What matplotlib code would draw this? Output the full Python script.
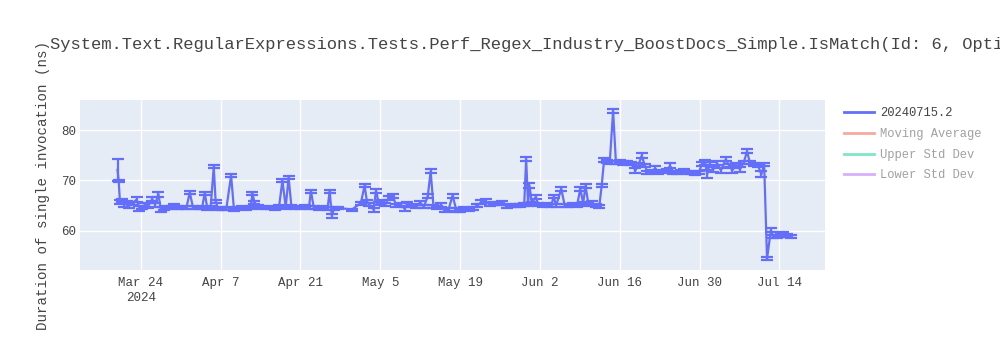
import pandas as pd
import matplotlib
matplotlib.use("Agg")
import matplotlib.pyplot as plt
from matplotlib.lines import Line2D

# benchmark runs: timestamp, mean duration (ns), std dev
run_times = [
    "2024-03-19 22:00", "2024-03-20 03:00", "2024-03-20 08:00", "2024-03-20 16:00",
    "2024-03-21 02:00", "2024-03-21 12:00", "2024-03-22 00:00", "2024-03-22 12:00",
    "2024-03-23 06:00", "2024-03-23 18:00", "2024-03-24 06:00", "2024-03-24 18:00",
    "2024-03-25 08:00", "2024-03-26 00:00", "2024-03-26 12:00", "2024-03-27 02:00",
    "2024-03-27 12:00", "2024-03-28 00:00", "2024-03-28 12:00", "2024-03-29 06:00",
    "2024-03-29 20:00", "2024-03-30 12:00", "2024-03-31 06:00", "2024-04-01 00:00",
    "2024-04-01 14:00", "2024-04-02 04:00", "2024-04-03 00:00", "2024-04-03 18:00",
    "2024-04-04 05:00", "2024-04-04 16:00", "2024-04-05 06:00", "2024-04-05 19:00",
    "2024-04-06 03:00", "2024-04-06 14:00", "2024-04-07 06:00", "2024-04-08 00:00",
    "2024-04-08 20:00", "2024-04-09 08:00", "2024-04-10 00:00", "2024-04-10 18:00",
    "2024-04-11 12:00", "2024-04-12 06:00", "2024-04-12 14:00", "2024-04-12 22:00",
    "2024-04-13 12:00", "2024-04-14 06:00", "2024-04-15 00:00", "2024-04-15 18:00",
    "2024-04-16 12:00", "2024-04-17 06:00", "2024-04-17 20:00", "2024-04-18 10:00",
    "2024-04-18 22:00", "2024-04-19 10:00", "2024-04-20 06:00", "2024-04-21 00:00",
    "2024-04-21 18:00", "2024-04-22 12:00", "2024-04-22 20:00", "2024-04-23 08:00",
    "2024-04-24 06:00", "2024-04-25 00:00", "2024-04-25 18:00", "2024-04-26 03:00",
    "2024-04-26 12:00", "2024-04-26 22:00", "2024-04-27 12:00", "2024-04-30 00:00",
    "2024-05-01 14:00", "2024-05-02 06:00", "2024-05-02 16:00", "2024-05-03 02:00",
    "2024-05-03 20:00", "2024-05-04 06:00", "2024-05-04 18:00", "2024-05-05 08:00",
    "2024-05-05 20:00", "2024-05-06 12:00", "2024-05-07 06:00", "2024-05-07 18:00",
    "2024-05-08 12:00", "2024-05-09 06:00", "2024-05-09 18:00", "2024-05-10 12:00",
    "2024-05-11 06:00", "2024-05-12 00:00", "2024-05-12 16:00", "2024-05-13 08:00",
    "2024-05-13 20:00", "2024-05-14 08:00", "2024-05-15 00:00", "2024-05-15 16:00",
    "2024-05-16 08:00", "2024-05-17 00:00", "2024-05-17 16:00", "2024-05-18 08:00",
    "2024-05-19 00:00", "2024-05-19 18:00", "2024-05-20 12:00", "2024-05-21 06:00",
    "2024-05-22 00:00", "2024-05-22 18:00", "2024-05-23 12:00", "2024-05-24 06:00",
    "2024-05-25 00:00", "2024-05-25 18:00", "2024-05-26 10:00", "2024-05-27 06:00",
    "2024-05-28 00:00", "2024-05-28 18:00", "2024-05-29 12:00", "2024-05-30 06:00",
    "2024-05-30 14:00", "2024-05-30 22:00", "2024-05-31 04:00", "2024-05-31 14:00",
    "2024-06-01 06:00", "2024-06-01 18:00", "2024-06-02 12:00", "2024-06-03 06:00",
    "2024-06-04 00:00", "2024-06-04 10:00", "2024-06-04 20:00", "2024-06-05 18:00",
    "2024-06-06 08:00", "2024-06-07 00:00", "2024-06-07 18:00", "2024-06-08 12:00",
    "2024-06-09 02:00", "2024-06-09 14:00", "2024-06-10 00:00", "2024-06-10 12:00",
    "2024-06-11 04:00", "2024-06-11 18:00", "2024-06-12 10:00", "2024-06-12 20:00",
    "2024-06-13 06:00", "2024-06-13 18:00", "2024-06-14 06:00", "2024-06-14 20:00",
    "2024-06-15 08:00", "2024-06-16 00:00", "2024-06-16 12:00", "2024-06-17 06:00",
    "2024-06-18 00:00", "2024-06-18 18:00", "2024-06-19 08:00", "2024-06-19 20:00",
    "2024-06-20 10:00", "2024-06-20 20:00", "2024-06-21 12:00", "2024-06-22 06:00",
    "2024-06-22 18:00", "2024-06-23 12:00", "2024-06-24 06:00", "2024-06-24 20:00",
    "2024-06-25 10:00", "2024-06-26 00:00", "2024-06-26 18:00", "2024-06-27 06:00",
    "2024-06-27 20:00", "2024-06-28 12:00", "2024-06-29 06:00", "2024-06-29 20:00",
    "2024-06-30 10:00", "2024-07-01 00:00", "2024-07-01 08:00", "2024-07-01 18:00",
    "2024-07-02 10:00", "2024-07-03 02:00", "2024-07-03 18:00", "2024-07-04 14:00",
    "2024-07-05 04:00", "2024-07-05 18:00", "2024-07-06 10:00", "2024-07-07 02:00",
    "2024-07-07 18:00", "2024-07-08 08:00", "2024-07-08 20:00", "2024-07-09 12:00",
    "2024-07-10 06:00", "2024-07-10 20:00", "2024-07-11 08:00", "2024-07-11 20:00",
    "2024-07-12 12:00", "2024-07-12 22:00", "2024-07-13 12:00", "2024-07-14 06:00",
    "2024-07-14 14:00", "2024-07-15 06:00", "2024-07-16 00:00",
]

durations = [
    72.1, 69.85, 65.8, 66.0, 65.2, 65.6, 65.0, 65.4,
    66.2, 64.5, 64.7, 65.2, 65.0, 66.3, 65.2, 67.3,
    64.3, 64.4, 64.6, 64.7, 64.9, 64.6, 64.5, 64.6,
    67.6, 64.6, 64.5, 64.6, 67.5, 64.5, 64.7, 72.7,
    65.8, 64.4, 64.5, 64.4, 71.0, 64.3, 64.5, 64.6,
    64.5, 64.6, 67.5, 65.7, 64.8, 64.6, 64.5, 64.6,
    64.4, 64.8, 70.0, 64.7, 70.6, 64.8, 64.6, 64.7,
    64.8, 64.7, 67.9, 64.6, 64.5, 64.6, 64.4, 67.9,
    63.0, 64.5, 64.6, 64.2, 65.5, 68.95, 65.8, 65.2,
    64.2, 68.0, 65.4, 65.8, 65.2, 66.5, 66.9, 65.0,
    65.3, 64.4, 65.4, 65.0, 64.9, 65.6, 64.8, 66.9,
    71.8, 64.8, 64.6, 65.1, 64.2, 64.3, 67.0, 64.2,
    64.1, 64.4, 64.2, 64.5, 65.0, 65.7, 65.9, 65.2,
    65.5, 65.4, 65.6, 64.9, 65.0, 65.1, 65.0, 65.3,
    74.3, 65.3, 69.0, 65.5, 66.7, 65.2, 65.0, 65.2,
    65.1, 66.8, 65.0, 68.3, 65.1, 65.0, 65.2, 65.0,
    68.3, 65.5, 68.9, 65.3, 65.5, 65.0, 64.9, 69.0,
    74.0, 73.7, 73.6, 83.85, 73.5, 73.8, 73.4, 73.6,
    73.3, 72.0, 73.2, 74.9, 73.0, 71.6, 71.8, 72.4,
    71.6, 71.7, 72.0, 72.9, 71.6, 71.5, 71.7, 71.9,
    71.6, 71.5, 71.3, 71.6, 73.2, 73.5, 71.2, 73.3,
    72.2, 73.4, 72.0, 74.2, 73.0, 72.0, 73.2, 72.2,
    73.6, 75.8, 73.5, 73.2, 73.0, 71.2, 73.1, 54.4,
    60.1, 58.9, 58.9, 59.0, 59.4, 59.0, 58.8,
]

std_devs = [
    2.2, 0.25, 0.4, 0.3, 0.5, 0.3, 0.4, 0.3,
    0.5, 0.5, 0.3, 0.4, 0.5, 0.4, 0.4, 0.5,
    0.5, 0.3, 0.3, 0.3, 0.4, 0.3, 0.2, 0.3,
    0.3, 0.3, 0.2, 0.3, 0.3, 0.3, 0.3, 0.3,
    0.3, 0.2, 0.3, 0.3, 0.3, 0.3, 0.2, 0.3,
    0.3, 0.3, 0.3, 0.3, 0.3, 0.3, 0.2, 0.3,
    0.3, 0.3, 0.25, 0.3, 0.3, 0.3, 0.3, 0.3,
    0.3, 0.3, 0.3, 0.3, 0.3, 0.3, 0.3, 0.3,
    0.4, 0.3, 0.2, 0.2, 0.3, 0.25, 0.3, 0.3,
    0.4, 0.4, 0.3, 0.3, 0.3, 0.4, 0.4, 0.3,
    0.3, 0.4, 0.4, 0.3, 0.3, 0.4, 0.3, 0.4,
    0.4, 0.3, 0.3, 0.4, 0.4, 0.3, 0.4, 0.4,
    0.3, 0.3, 0.3, 0.3, 0.3, 0.4, 0.4, 0.3,
    0.3, 0.3, 0.4, 0.3, 0.3, 0.3, 0.3, 0.3,
    0.4, 0.3, 0.4, 0.3, 0.4, 0.3, 0.3, 0.3,
    0.3, 0.3, 0.3, 0.4, 0.3, 0.3, 0.3, 0.3,
    0.4, 0.3, 0.4, 0.3, 0.4, 0.3, 0.3, 0.3,
    0.4, 0.3, 0.3, 0.45, 0.3, 0.3, 0.4, 0.3,
    0.3, 0.5, 0.3, 0.5, 0.3, 0.3, 0.3, 0.5,
    0.3, 0.3, 0.3, 0.5, 0.3, 0.3, 0.3, 0.3,
    0.3, 0.3, 0.3, 0.3, 0.4, 0.5, 0.8, 0.4,
    0.5, 0.4, 0.5, 0.4, 0.3, 0.5, 0.3, 0.5,
    0.3, 0.4, 0.3, 0.3, 0.3, 0.6, 0.3, 0.3,
    0.4, 0.3, 0.3, 0.3, 0.3, 0.3, 0.3,
]

series_names = ["20240715.2", "Moving Average", "Upper Std Dev", "Lower Std Dev"]
series_colors = ["#636efa", "#EF553B", "#00cc96", "#ab63fa"]

title = ("System.Text.RegularExpressions.Tests.Perf_Regex_Industry_BoostDocs_Simple"
         ".IsMatch(Id: 6, Options: None)")

plt.rcParams["font.family"] = ["Liberation Mono", "DejaVu Sans Mono"]
text_color = "#444444"

fig = plt.figure(figsize=(10, 3.5), dpi=100)
ax = fig.add_axes([0.08, 1 - 270 / 350, 0.745, 170 / 350])
ax.set_facecolor("#e5ecf6")

x = pd.to_datetime(run_times)
ax.errorbar(x, durations, yerr=std_devs, color=series_colors[0],
            lw=1.6, elinewidth=1.6, capsize=4, capthick=1.6, zorder=3)

# axis ranges and ticks
ax.set_xlim(pd.Timestamp("2024-03-13 08:00"), pd.Timestamp("2024-07-22 00:00"))
ax.set_ylim(52.2, 86.0)
ax.set_yticks([60, 70, 80])

tick_dates = pd.date_range("2024-03-24", periods=9, freq="14D")
tick_labels = [f"{d:%b} {d.day}" for d in tick_dates]
tick_labels[0] += "\n2024"
ax.set_xticks(tick_dates)
ax.set_xticklabels(tick_labels, linespacing=1.3)

ax.grid(True, color="white", lw=1)
ax.set_axisbelow(True)
for s in ax.spines.values():
    s.set_visible(False)
ax.tick_params(length=0, labelsize=9, colors=text_color)
ax.tick_params(axis="x", pad=5)
ax.tick_params(axis="y", pad=3)

ax.set_ylabel("Duration of single invocation (ns)", fontsize=10.2, color=text_color,
              labelpad=8)

fig.text(0.05, 1 - 45 / 350, title, fontsize=12.3, color=text_color,
         ha="left", va="center")

# legend: only the run series is visible, the others are toggled off
handles = [Line2D([], [], color=c, lw=2) for c in series_colors]
leg = ax.legend(handles, series_names, loc="upper left",
                bbox_to_anchor=(0.839, 0.707), bbox_transform=fig.transFigure,
                frameon=False, fontsize=8.7, handlelength=2.5, handletextpad=0.5,
                labelspacing=0.72, borderaxespad=0)
for i, (h, t) in enumerate(zip(leg.legend_handles, leg.get_texts())):
    t.set_color(text_color)
    if i > 0:
        h.set_alpha(0.5)
        t.set_alpha(0.5)

fig.savefig("out.png", dpi=100)
